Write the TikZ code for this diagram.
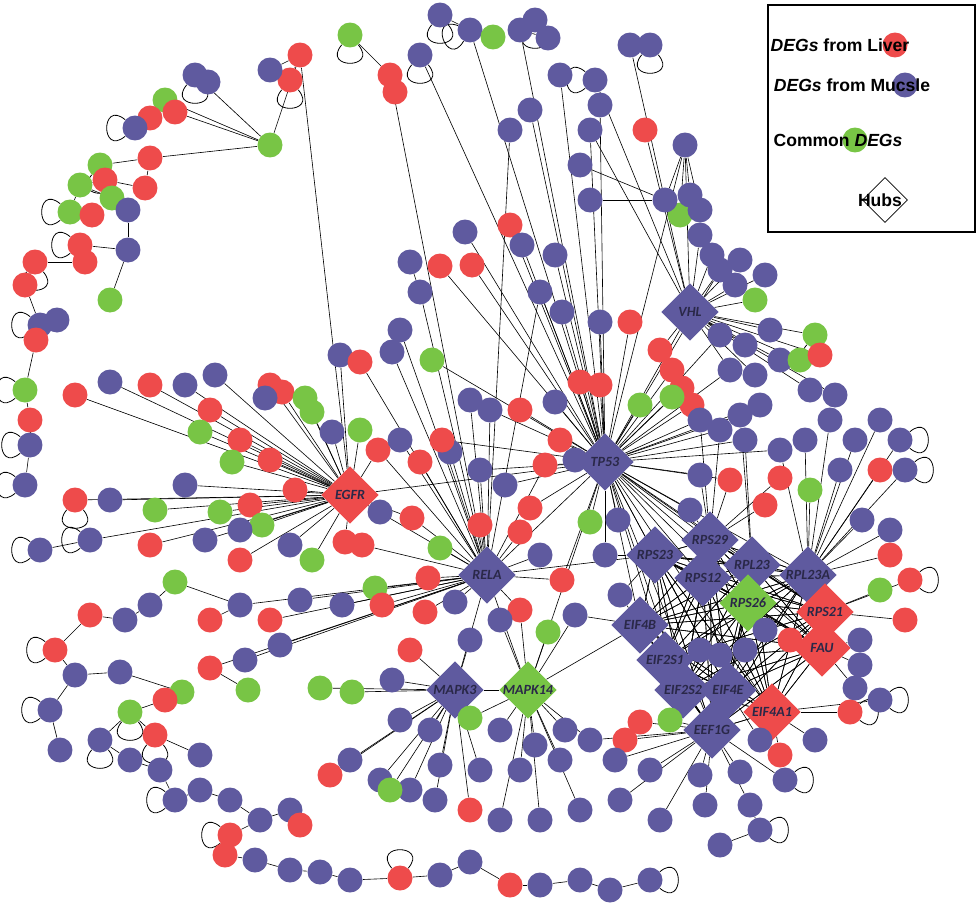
\documentclass[tikz,border=0pt]{standalone}
\usepackage{fontspec}
\newfontfamily\legfont{Liberation Sans}
\newfontfamily\hubfont{Carlito}
\usetikzlibrary{shapes.geometric,backgrounds}
\definecolor{liverred}{HTML}{EE4B4B}
\definecolor{musclebl}{HTML}{5F5A9F}
\definecolor{commongr}{HTML}{78C545}
\definecolor{hubtext}{HTML}{2A2848}
\tikzset{
  r/.style={circle, fill=liverred, inner sep=0pt, minimum size=0.5cm},
  b/.style={circle, fill=musclebl, inner sep=0pt, minimum size=0.5cm},
  g/.style={circle, fill=commongr, inner sep=0pt, minimum size=0.5cm},
  hub/.style={diamond, aspect=1, inner sep=0pt, minimum size=1.15cm},
  hub label/.style={font=\hubfont\fontsize{8}{9}\selectfont\bfseries\itshape, text=hubtext},
  link/.style={black, line width=0.35pt},
  selfloop/.style={black, line width=0.45pt, looseness=5}
}
\def\genelist{
  1/470/30/b/tp53, 2/440/15/b/c1, 3/493/37/g/c1, 4/520/30/b/tp53, 5/535/20/b/c4,
  6/548/38/b/c4, 7/630/45/b/vhl, 8/650/45/b/c7, 9/595/80/b/vhl, 10/560/75/b/tp53,
  11/600/105/b/tp53, 12/590/130/b/tp53, 13/645/130/r/vhl, 14/685/145/b/vhl, 15/530/110/b/tp53,
  16/510/130/b/rela, 17/420/55/b/tp53, 18/390/75/r/rela, 19/395/92/r/c18, 20/350/35/g/c18,
  21/300/55/r/egfr, 22/290/80/r/c21, 23/270/70/b/c21, 24/270/145/g/c21, 25/195/75/b/c24,
  26/208/82/b/c25, 27/165/100/g/c24, 28/150/118/r/c27, 29/135/128/b/c28, 30/175/112/r/c24,
  31/150/158/r/c24, 32/145/188/r/c31, 33/100/165/g/c31, 34/105/180/r/c32, 35/80/185/g/c34,
  36/70/212/g/c35, 37/92/215/r/c36, 38/112/198/g/c35, 39/128/210/b/c38, 40/128/250/b/c39,
  41/80/245/r/c40, 42/85/262/r/c41, 43/35/262/r/c42, 44/25/285/r/c43, 45/40/325/b/c44,
  46/57/320/b/c45, 47/36/340/r/c45, 48/110/300/g/c40, 49/25/390/g/c47, 50/30/420/r/c49,
  51/30/445/b/c50, 52/25/485/b/c51, 53/75/395/r/egfr, 54/110/382/b/egfr, 55/150/385/r/egfr,
  56/185/385/b/egfr, 57/215/375/b/egfr, 58/210/410/r/egfr, 59/200/432/g/egfr, 60/240/440/r/egfr,
  61/270/385/r/egfr, 62/282/392/r/egfr, 63/265/398/b/c61, 64/305/398/g/egfr, 65/312/412/g/egfr,
  66/270/460/r/egfr, 67/295/490/r/egfr, 68/232/462/g/egfr, 69/360/430/g/egfr, 70/378/450/r/egfr,
  71/332/432/b/egfr, 72/340/355/b/egfr, 73/360/362/r/rela, 74/392/352/b/rela, 75/432/360/g/tp53,
  76/400/330/b/rela, 77/420/292/b/rela, 78/410/262/b/c77, 79/440/266/r/tp53, 80/472/265/r/tp53,
  81/465/232/b/tp53, 82/510/225/r/tp53, 83/522/245/b/tp53, 84/555/255/b/tp53, 85/540/292/b/tp53,
  86/562/312/b/tp53, 87/600/322/b/tp53, 88/630/322/r/tp53, 89/660/350/r/vhl, 90/672/370/r/tp53,
  91/682/388/r/tp53, 92/692/405/r/tp53, 93/640/405/g/tp53, 94/672/397/g/tp53, 95/600/385/r/tp53,
  96/580/382/r/tp53, 97/555/402/b/tp53, 98/520/410/r/tp53, 99/490/410/b/tp53, 100/470/400/b/rela,
  101/450/452/b/rela, 102/420/462/r/rela, 103/442/440/r/rela, 104/400/440/b/rela, 105/75/500/r/egfr,
  106/110/500/b/egfr, 107/155/510/g/egfr, 108/185/485/b/egfr, 109/220/512/g/egfr, 110/250/505/r/egfr,
  111/262/525/g/egfr, 112/240/530/b/egfr, 113/90/540/b/egfr, 114/40/550/b/c113, 115/150/545/r/egfr,
  116/205/540/b/egfr, 117/240/560/r/egfr, 118/290/545/b/egfr, 119/312/560/g/egfr, 120/345/542/r/egfr,
  121/362/545/r/rela, 122/380/512/b/egfr, 123/412/518/r/rela, 124/440/548/g/rela, 125/428/578/r/rela,
  126/375/588/g/rela, 127/382/605/r/rela, 128/342/605/b/rela, 129/300/600/b/rela, 130/270/620/r/rela,
  131/240/605/b/rela, 132/210/620/r/c131, 133/175/582/g/c131, 134/150/605/b/c133, 135/125/620/b/c134,
  136/90/615/r/c135, 137/55/650/r/c136, 138/75/675/b/c137, 139/120/672/b/c138, 140/182/692/g/c139,
  141/165/700/r/c140, 142/130/712/g/c141, 143/210/668/r/rela, 144/248/690/g/c143, 145/245/660/b/rela,
  146/280/645/b/rela, 147/320/688/g/mapk3, 148/352/692/g/mapk3, 149/392/680/b/mapk3, 150/410/650/r/mapk3,
  151/425/612/r/rela, 152/455/602/b/rela, 153/480/525/r/rela, 154/520/532/r/rela, 155/530/508/r/tp53,
  156/505/485/b/tp53, 157/480/470/b/tp53, 158/545/465/r/tp53, 159/560/440/r/tp53, 160/575/460/b/tp53,
  161/540/555/b/rela, 162/562/580/r/rela, 163/575/615/b/mapk14, 164/548/632/g/mapk14, 165/520/610/r/rela,
  166/500/620/b/mapk14, 167/470/640/b/mapk3, 168/590/522/g/tp53, 169/605/555/b/rps23, 170/620/595/b/rps23,
  171/618/520/b/tp53, 172/700/420/b/tp53, 173/720/430/b/tp53, 174/740/415/b/tp53, 175/760/405/b/tp53,
  176/745/440/b/tp53, 177/780/450/b/tp53, 178/805/440/b/rpl23a, 179/830/420/b/rpl23a, 180/855/440/b/rpl23a,
  181/880/420/b/rpl23a, 182/900/440/b/rpl23a, 183/880/470/r/rpl23a, 184/905/470/b/rpl23a, 185/840/470/b/rpl23a,
  186/810/490/g/rpl23a, 187/780/478/r/rps29, 188/765/505/r/rps29, 189/730/480/r/rps29, 190/700/475/b/rps29,
  191/690/510/b/rps29, 192/862/520/b/rpl23a, 193/890/530/b/rpl23a, 194/890/555/r/rpl23a, 195/910/580/r/rps21,
  196/880/590/g/rps21, 197/860/640/b/fau, 198/860/665/b/fau, 199/855/688/b/fau, 200/850/712/r/eif4a1,
  201/815/740/b/eif4a1, 202/780/755/r/eif4a1, 203/760/740/b/eif4e, 204/720/655/b/eif4e, 205/745/650/b/eif4e,
  206/700/650/b/eif2s2, 207/765/630/b/rps26, 208/790/640/r/fau, 209/670/720/g/eef1g, 210/640/722/r/eef1g,
  211/625/740/r/eef1g, 212/615/760/b/eef1g, 213/650/770/b/eef1g, 214/700/775/b/eef1g, 215/740/772/b/eef1g,
  216/785/780/b/eef1g, 217/720/270/b/vhl, 218/740/260/b/vhl, 219/765/275/b/vhl, 220/755/300/g/vhl,
  221/735/285/b/vhl, 222/712/255/b/vhl, 223/700/235/b/vhl, 224/680/215/g/c14, 225/665/200/b/c14,
  226/690/195/b/c14, 227/700/210/b/c14, 228/590/200/b/c225, 229/580/165/b/c225, 230/720/335/b/vhl,
  231/745/345/b/vhl, 232/770/330/b/vhl, 233/780/360/b/vhl, 234/800/360/g/vhl, 235/815/335/g/vhl,
  236/820/355/r/vhl, 237/755/375/b/vhl, 238/730/370/b/vhl, 239/810/390/b/vhl, 240/835/395/b/vhl,
  241/400/720/b/mapk3, 242/430/730/b/mapk3, 243/470/718/g/mapk14, 244/500/730/b/mapk14, 245/535/745/b/mapk14,
  246/565/730/b/mapk14, 247/590/740/b/mapk14, 248/560/760/b/mapk14, 249/520/770/b/mapk14, 250/480/770/b/mapk3,
  251/440/765/b/mapk3, 252/410/790/b/mapk3, 253/380/780/b/mapk3, 254/350/760/b/mapk3, 255/330/775/r/mapk3,
  256/390/790/g/mapk3, 257/435/800/b/mapk3, 258/470/810/r/mapk3, 259/500/820/b/mapk14, 260/540/820/b/mapk14,
  261/580/810/b/mapk14, 262/620/800/b/eef1g, 263/660/820/b/eef1g, 264/705/805/b/eef1g, 265/750/805/b/eef1g,
  266/760/830/b/c265, 267/720/845/b/c266, 268/100/740/b/c142, 269/130/760/b/c268, 270/160/770/b/c269,
  271/175/800/b/c270, 272/200/790/b/c271, 273/230/800/b/c272, 274/260/820/b/c273, 275/290/810/b/c274,
  276/300/825/r/c275, 277/230/835/r/c274, 278/225/855/r/c277, 279/255/860/b/c278, 280/290/870/b/c279,
  281/320/872/b/c280, 282/350/880/b/c281, 283/400/878/r/c282, 284/440/875/b/c283, 285/470/862/b/c284,
  286/510/885/r/c285, 287/540/885/b/c286, 288/580/880/b/c287, 289/610/890/b/c288, 290/650/880/b/c289,
  291/155/735/r/c142, 292/200/755/b/c291, 293/50/710/b/c138, 294/60/750/b/c293, 295/905/620/r/rps21,
  296/880/700/b/eif4a1}
\begin{document}
\begin{tikzpicture}[x=0.02cm, y=-0.02cm]
\useasboundingbox (0,0) rectangle (980,916);
% hubs
\foreach \n/\x/\y/\c/\t in {vhl/690/312/musclebl/VHL, tp53/605/462/musclebl/TP53,
  egfr/350/495/liverred/EGFR, rela/487/575/musclebl/RELA, rps23/655/555/musclebl/RPS23,
  rps29/710/540/musclebl/RPS29, rpl23/752/565/musclebl/RPL23, rpl23a/808/575/musclebl/RPL23A,
  rps12/703/578/musclebl/RPS12, rps26/748/603/commongr/RPS26, rps21/825/612/liverred/RPS21,
  fau/822/648/liverred/FAU, eif4b/640/625/musclebl/EIF4B, eif2s1/665/660/musclebl/EIF2S1,
  eif2s2/683/690/musclebl/EIF2S2, eif4e/728/690/musclebl/EIF4E, eif4a1/772/712/liverred/EIF4A1,
  eef1g/712/730/musclebl/EEF1G, mapk3/455/690/musclebl/MAPK3, mapk14/528/690/commongr/MAPK14}
  \node[hub, fill=\c, label={[hub label]center:\t}] (\n) at (\x,\y) {};
% genes
\foreach \i/\x/\y/\c/\t in \genelist
  \node[\c] (c\i) at (\x,\y) {};
\begin{pgfonlayer}{background}
  \foreach \i/\x/\y/\c/\t in \genelist
    \draw[link] (c\i) -- (\t);
  % self loops (angle as seen on the page)
  \foreach \n/\a [evaluate=\a as \ao using \a+40, evaluate=\a as \ai using \a-40] in
    {c1/160, c2/90, c5/90, c9/180, c17/90, c20/90, c25/90, c29/180, c33/90, c36/180, c43/90,
    c49/180, c51/180, c52/180, c114/180, c137/180, c142/90, c184/0, c182/0, c195/0, c235/90,
    c268/90, c271/180, c277/180, c291/90, c293/180, c266/0, c45/180, c105/90, c296/0,
    c41/180, c113/180, c8/90, c22/90, c200/0, c216/0, c290/0, c283/270}
    \path (\n) edge[selfloop, out=-\ao, in=-\ai] (\n);
  % hub mesh
  \foreach \a in {tp53, rps23, rps29, rpl23, rpl23a, rps12, rps26, rps21, fau, eif4b, eif2s1, eif2s2, eif4e, eif4a1, eef1g}{
    \foreach \b in {rps23, rps29, rpl23, rpl23a, rps12, rps26, rps21, fau, eif4b, eif2s1, eif2s2, eif4e, eif4a1, eef1g}
      \draw[link] (\a) -- (\b);
  }
  \foreach \a/\b in {rela/tp53, egfr/rela, egfr/tp53, mapk3/mapk14, mapk14/tp53, vhl/tp53,
    rela/mapk14, rela/mapk3, mapk14/eif4b, rela/rps23, c172/rps29, c173/rps29, c174/rpl23,
    c176/rpl23, c177/rpl23a, c189/tp53, c190/tp53, c191/tp53, c217/tp53, c230/tp53, c238/tp53,
    c14/tp53, c12/vhl, c85/rela, c99/rela, c157/rela, c123/egfr, c70/rela, c103/tp53,
    c169/tp53, c170/eif4b, c163/eif4b, c162/tp53, c165/mapk14, c158/rela, c247/eef1g}
    \draw[link] (\a) -- (\b);
\end{pgfonlayer}
% legend
\draw[line width=1.2pt] (768,5) rectangle (975,232);
\node[r] (legliver) at (895,45) {};
\node[b] (legmuscle) at (905,85) {};
\node[g] (legcommon) at (855,140) {};
\node[hub, draw=black, fill=white, minimum size=0.9cm] (leghub) at (885,200) {};
\begin{scope}[font=\legfont\fontsize{10}{12}\selectfont\bfseries]
  \node (txtliver) at (840,45) {\textit{DEGs} from Liver};
  \node (txtmuscle) at (852,85) {\textit{DEGs} from Mucsle};
  \node (txtcommon) at (838,140) {Common \textit{DEGs}};
  \node (txthub) at (880,200) {Hubs};
\end{scope}
\end{tikzpicture}
\end{document}
